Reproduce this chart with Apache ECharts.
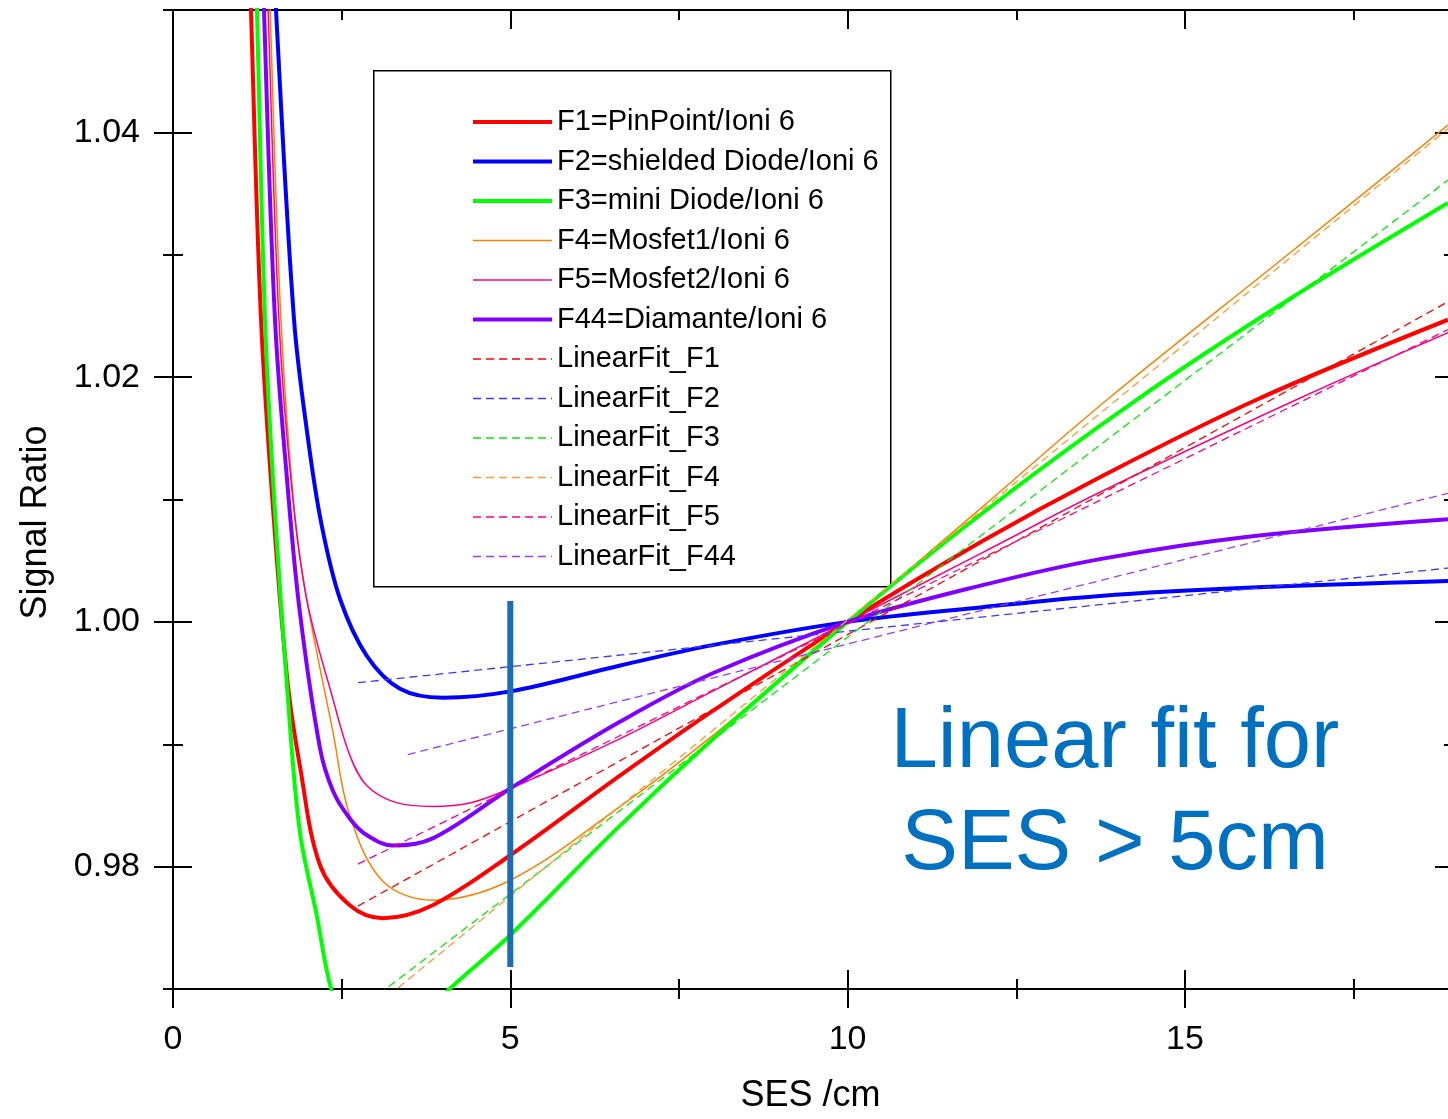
<!DOCTYPE html>
<html><head><meta charset="utf-8">
<script src="https://cdn.jsdelivr.net/npm/echarts@6/dist/echarts.min.js"></script>
<style>html,body{margin:0;padding:0;background:#fff;overflow:hidden}#c{width:1448px;height:1119px}</style>
</head><body><div id="c"></div>
<script>
const FONT = '"Liberation Sans", Arial, Helvetica, sans-serif';

// ---- tick positions / labels ----
const xMajorTicks = [0, 5, 10, 15];
const xMinorTicks = [2.5, 7.5, 12.5, 17.5];
const yMajorTicks = [0.98, 1.00, 1.02, 1.04];
const yMinorTicks = [0.97, 0.99, 1.01, 1.03, 1.05];

// ---- measured curves (SES in cm, signal ratio) ----
const f1X = [1.10, 1.156, 1.305, 1.5, 1.7, 1.88, 2.18, 2.62, 3.11, 3.85, 5.0, 6.63, 8.0, 10.0, 12.0, 13.74, 16.07, 18.9];
const f1Y = [1.061, 1.05, 1.0247, 1.008, 0.995, 0.98826, 0.98011, 0.97685, 0.97579, 0.97685, 0.98093, 0.98745, 0.99272, 1.0, 1.0066, 1.01182, 1.01817, 1.02469];

const f2X = [1.45, 1.527, 1.794, 2.0, 2.2, 2.476, 2.87, 3.365, 4.0, 5.0, 6.63, 8.0, 10.0, 12.0, 13.74, 16.0, 18.9];
const f2Y = [1.06, 1.05, 1.0247, 1.015, 1.008, 1.00187, 0.99725, 0.99454, 0.99381, 0.99432, 0.99644, 0.9981, 1.0, 1.0012, 1.00212, 1.0028, 1.00334];

const f3X = [1.18, 1.245, 1.364, 1.5, 1.7, 1.88, 2.13, 2.35, 2.6, 3.0, 3.5, 4.1, 5.0, 6.63, 8.0, 10.0, 12.0, 14.29, 16.5, 18.9];
const f3Y = [1.064, 1.05, 1.0247, 1.010, 0.994, 0.98289, 0.97604, 0.9699, 0.9670, 0.9658, 0.9668, 0.970, 0.97441, 0.98337, 0.9904, 1.0, 1.0089, 1.01817, 1.0262, 1.03423];

const f4X = [1.38, 1.44, 1.60, 1.8, 1.98, 2.37, 2.62, 3.11, 3.85, 5.0, 6.63, 8.0, 10.0, 12.0, 13.85, 16.5, 18.9];
const f4Y = [1.062, 1.05, 1.0247, 1.009, 1.0019, 0.99104, 0.98419, 0.97881, 0.97726, 0.97889, 0.98492, 0.9907, 1.0, 1.0094, 1.01817, 1.0299, 1.04059];

const f5X = [1.35, 1.41, 1.57, 1.75, 1.98, 2.37, 2.62, 2.87, 3.3, 3.85, 4.4, 5.0, 6.63, 8.0, 10.0, 12.0, 13.74, 16.66, 18.9];
const f5Y = [1.062, 1.05, 1.0247, 1.0115, 1.0019, 0.99372, 0.98911, 0.98663, 0.98525, 0.98492, 0.9852, 0.98639, 0.99046, 0.99434, 1.0, 1.00566, 1.01059, 1.01817, 1.02363];

const f44X = [1.29, 1.349, 1.512, 1.7, 1.88, 2.18, 2.377, 2.62, 2.87, 3.26, 3.85, 5.0, 6.63, 8.0, 10.0, 12.0, 13.74, 16.0, 18.9];
const f44Y = [1.062, 1.05, 1.0247, 1.011, 1.0008, 0.98965, 0.98612, 0.98394, 0.98258, 0.98172, 0.98231, 0.98639, 0.99185, 0.9958, 1.0, 1.0030, 1.00513, 1.0070, 1.00839];

// ---- linear fits (start / end points) ----
const fit1X = [2.74, 18.9],  fit1Y = [0.97677, 1.02616];
const fit2X = [2.74, 18.9],  fit2Y = [0.99503, 1.00440];
const fit3X = [2.74, 18.9],  fit3Y = [0.96827, 1.03610];
const fit4X = [2.74, 18.9],  fit4Y = [0.96740, 1.04030];
const fit5X = [2.74, 18.9],  fit5Y = [0.98020, 1.02388];
const fit44X = [3.48, 18.9], fit44Y = [0.98916, 1.01051];

// ---- vertical marker at SES = 5 cm ----
const markX = [5, 5];
const markY = [0.9718, 1.0017];

const names = ['F1=PinPoint/Ioni 6', 'F2=shielded Diode/Ioni 6', 'F3=mini Diode/Ioni 6',
  'F4=Mosfet1/Ioni 6', 'F5=Mosfet2/Ioni 6', 'F44=Diamante/Ioni 6',
  'LinearFit_F1', 'LinearFit_F2', 'LinearFit_F3', 'LinearFit_F4', 'LinearFit_F5', 'LinearFit_F44'];
const annotation = ['Linear fit for', 'SES > 5cm'];

const zip = (xs, ys) => xs.map((x, i) => [x, ys[i]]);

function solid(name, xs, ys, color, width) {
  return { name, type: 'line', data: zip(xs, ys), symbol: 'none', showSymbol: false,
    smooth: 0.35, clip: true, z: 3,
    lineStyle: { color, width }, itemStyle: { color } };
}
function dashed(name, xs, ys, color) {
  return { name, type: 'line', data: zip(xs, ys), symbol: 'none', showSymbol: false, clip: true, z: 4,
    lineStyle: { color, width: 1.3, type: [8, 5] }, itemStyle: { color } };
}

const blackLine = { color: '#000', width: 2 };
function xAx(pos, vals, len, inside, labels, extra) {
  return Object.assign({
    type: 'value', gridIndex: 0, position: pos, min: 0, max: 18.9,
    axisLine: { show: true, onZero: false, lineStyle: blackLine },
    axisTick: { show: true, customValues: vals, length: len, inside, lineStyle: blackLine },
    axisLabel: labels ? { show: true, customValues: vals, margin: 34, fontSize: 34, color: '#000', fontFamily: FONT }
                      : { show: false },
    splitLine: { show: false }
  }, extra || {});
}
function yAx(pos, vals, len, inside, labels, extra) {
  return Object.assign({
    type: 'value', gridIndex: 0, position: pos, min: 0.97, max: 1.05,
    axisLine: { show: true, onZero: false, lineStyle: blackLine },
    axisTick: { show: true, customValues: vals, length: len, inside, lineStyle: blackLine },
    axisLabel: labels ? { show: true, customValues: vals, margin: 33, fontSize: 34, color: '#000', fontFamily: FONT,
                          formatter: v => v.toFixed(2) }
                      : { show: false },
    splitLine: { show: false }
  }, extra || {});
}
const hiddenLine = { axisLine: { show: false, onZero: false } };

const chart = echarts.init(document.getElementById('c'), null, { renderer: 'canvas' });
chart.setOption({
  animation: false,
  backgroundColor: '#fff',
  textStyle: { fontFamily: FONT },
  grid: { left: 173, top: 10, right: 0, height: 984, containLabel: false },
  xAxis: [
    xAx('bottom', xMajorTicks, 19, false, true, {
      name: 'SES /cm', nameLocation: 'middle', nameGap: 89,
      nameTextStyle: { fontSize: 36, color: '#000', fontFamily: FONT } }),
    xAx('bottom', xMajorTicks, 19, true, false),
    xAx('bottom', xMinorTicks, 10, false, false),
    xAx('bottom', xMinorTicks, 10, true, false),
    xAx('top', xMajorTicks, 19, true, false),
    xAx('top', xMinorTicks, 10, true, false)
  ],
  yAxis: [
    yAx('left', yMajorTicks, 19, false, true, {
      name: 'Signal Ratio', nameLocation: 'middle', nameGap: 119,
      nameTextStyle: { fontSize: 36, color: '#000', fontFamily: FONT, padding: [0, 46, 0, 0] } }),
    yAx('left', yMajorTicks, 19, true, false),
    yAx('left', yMinorTicks, 10, false, false),
    yAx('left', yMinorTicks, 10, true, false),
    yAx('right', yMajorTicks, 13, true, false, hiddenLine),
    yAx('right', yMinorTicks, 4, true, false, hiddenLine)
  ],
  legend: {
    orient: 'vertical', left: 471, top: 107, padding: 0,
    itemWidth: 79, itemHeight: 14, itemGap: 9.5,
    itemStyle: { opacity: 0 },
    lineStyle: { width: 'inherit' },
    textStyle: { fontSize: 29, lineHeight: 30, color: '#000', fontFamily: FONT },
    data: names
  },
  graphic: [
    { type: 'rect', left: 373, top: 70, z: 1,
      shape: { width: 517, height: 516 },
      style: { fill: '#fff', stroke: '#000', lineWidth: 1.5 } },
    { type: 'text', x: 1115, y: 795, z: 10,
      style: { text: annotation.join('\n'), fontSize: 85, lineHeight: 102, fill: '#0070c0',
               fontFamily: FONT, align: 'center', verticalAlign: 'middle' } }
  ],
  series: [
    dashed(names[6], fit1X, fit1Y, '#ff0000'),
    dashed(names[7], fit2X, fit2Y, '#3a3aff'),
    dashed(names[8], fit3X, fit3Y, '#00ee00'),
    dashed(names[9], fit4X, fit4Y, '#ff9933'),
    dashed(names[10], fit5X, fit5Y, '#ff0080'),
    dashed(names[11], fit44X, fit44Y, '#9a3cff'),
    solid(names[3], f4X, f4Y, '#ff8000', 1.5),
    solid(names[4], f5X, f5Y, '#ff0080', 1.5),
    solid(names[0], f1X, f1Y, '#ff0000', 4),
    solid(names[1], f2X, f2Y, '#0000ff', 4),
    solid(names[2], f3X, f3Y, '#00ff00', 4),
    solid(names[5], f44X, f44Y, '#8000ff', 4),
    { name: 'marker', type: 'line', data: zip(markX, markY), symbol: 'none', z: 6,
      lineStyle: { color: '#1a6db5', width: 6 } }
  ]
});
</script></body></html>
